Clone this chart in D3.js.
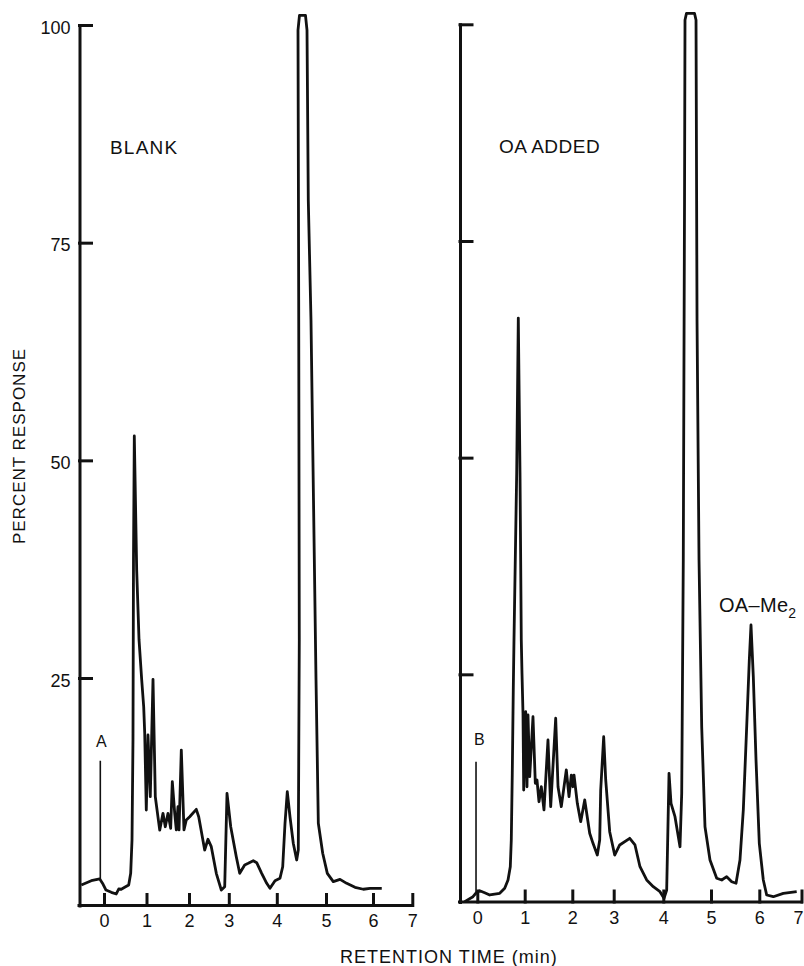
<!DOCTYPE html>
<html>
<head>
<meta charset="utf-8">
<script src="https://cdn.jsdelivr.net/npm/d3@7"></script>
<style>
  html, body { margin: 0; padding: 0; background: #fff; }
  svg { display: block; }
  text { font-family: "Liberation Sans", Arial, sans-serif; fill: #111; }
</style>
</head>
<body>
<div id="chart"></div>
<script>
// tick values / labels
const xTickValues = [0, 1, 2, 3, 4, 5, 6, 7];
const xTickLabels = ["0", "1", "2", "3", "4", "5", "6", "7"];
const yTickValues = [25, 50, 75, 100];

// trace A: blank (retention time in min, percent response)
const blankTime = [
  -0.534, -0.299, -0.101, -0.024, 0.047, 0.172, 0.289, 0.346, 0.407, 0.487,
  0.581, 0.628, 0.659, 0.682, 0.694, 0.713, 0.769, 0.824, 0.887, 0.934,
  0.958, 0.995, 1.035, 1.089, 1.153, 1.207, 1.311, 1.388, 1.442, 1.506,
  1.569, 1.607, 1.664, 1.701, 1.741, 1.765, 1.819, 1.882, 1.936, 2.018,
  2.183, 2.244, 2.394, 2.477, 2.56, 2.686, 2.812, 2.897, 2.955, 3.04,
  3.156, 3.227, 3.331, 3.406, 3.51, 3.581, 3.685, 3.79, 3.858, 3.963,
  4.065, 4.12, 4.167, 4.213, 4.268, 4.335, 4.404, 4.437, 4.457, 4.445,
  4.431, 4.461, 4.583, 4.614, 4.64, 4.695, 4.746, 4.797, 4.844, 4.933,
  5.028, 5.155, 5.298, 5.44, 5.617, 5.794, 5.936, 6.223
];
const blankResponse = [
  1.23, 1.72, 1.92, 1.34, 0.65, 0.39, 0.2, 0.77, 0.74, 0.96,
  1.23, 2.57, 6.4, 17.9, 38.6, 52.8, 37.4, 29.4, 24.8, 21.7,
  18.65, 9.84, 18.46, 11.37, 24.85, 11.37, 7.53, 9.46, 7.92, 9.46,
  7.74, 13.09, 9.46, 7.55, 10.22, 7.55, 16.73, 7.55, 8.69, 9.07,
  9.92, 9.07, 5.25, 6.48, 5.63, 2.57, 0.65, 1.03, 11.76, 7.92,
  4.48, 2.57, 3.53, 3.72, 4.02, 3.79, 2.57, 1.42, 0.85, 1.72,
  2.0, 3.33, 8.32, 11.94, 9.07, 6.02, 4.1, 5.25, 29.4, 68.4,
  99.4, 101.1, 101.1, 99.4, 79.9, 66.1, 45.4, 24.8, 8.32, 4.87,
  2.57, 1.61, 1.88, 1.42, 0.96, 0.74, 0.85, 0.85
];

// trace B: OA added
const oaTime = [
  -0.266, -0.091, -0.021, 0.051, 0.156, 0.262, 0.367, 0.473, 0.578, 0.648,
  0.696, 0.717, 0.738, 0.759, 0.774, 0.831, 0.865, 0.901, 0.928, 0.943,
  0.964, 0.979, 1.021, 1.048, 1.069, 1.105, 1.174, 1.223, 1.258, 1.3,
  1.349, 1.405, 1.489, 1.546, 1.651, 1.7, 1.769, 1.874, 1.931, 1.979,
  2.017, 2.041, 2.121, 2.203, 2.3, 2.42, 2.5, 2.604, 2.662, 2.686,
  2.758, 2.807, 2.903, 3.02, 3.121, 3.323, 3.429, 3.53, 3.665, 3.798,
  3.933, 4.015, 4.071, 4.12, 4.162, 4.245, 4.35, 4.386, 4.419, 4.445,
  4.455, 4.486, 4.654, 4.686, 4.707, 4.749, 4.805, 4.874, 4.979, 5.118,
  5.222, 5.325, 5.429, 5.518, 5.6, 5.669, 5.739, 5.793, 5.828, 5.876,
  5.932, 6.0, 6.095, 6.175, 6.332, 6.569, 6.886
];
const oaResponse = [
  -1.23, -0.66, -0.2, 0.03, -0.2, -0.46, -0.35, -0.27, 0.31, 1.27,
  2.8, 5.88, 13.58, 23.19, 28.96, 48.2, 66.1, 48.2, 28.96, 25.1,
  20.5, 11.65, 20.69, 12.03, 20.31, 13.19, 20.11, 12.43, 12.81, 10.3,
  12.03, 9.35, 17.42, 9.73, 19.93, 12.03, 9.73, 13.96, 10.88, 13.38,
  12.03, 13.38, 10.12, 8.0, 10.5, 6.66, 5.5, 4.15, 5.88, 11.65,
  17.8, 12.81, 6.84, 4.15, 5.31, 6.08, 5.31, 2.8, 1.27, 0.5,
  -0.08, -0.84, 0.12, 13.58, 10.12, 8.57, 5.11, 11.27, 38.19, 79.7,
  100.5, 101.27, 101.27, 100.5, 65.9, 38.19, 18.96, 7.42, 3.58, 1.47,
  1.27, 1.65, 1.07, 0.89, 3.58, 9.35, 18.96, 26.65, 30.69, 24.73,
  15.11, 5.5, 1.27, -0.46, -0.66, -0.27, -0.08
];

// injection markers [time, base, top]
const blankMarker = [-0.087, 1.8, 15.5];
const oaMarker = [-0.027, -0.2, 14.9];

const width = 804;
const height = 966;

const svg = d3
  .select("#chart")
  .append("svg")
  .attr("width", width)
  .attr("height", height);

// layout of the two hand drawn panels (tick spacing is slightly uneven)
const panels = [
  {
    time: blankTime, resp: blankResponse, marker: blankMarker,
    tickPx: [104, 146.5, 189, 228.8, 276.8, 326, 373, 412.3],
    axisX: 79.5, axisY: 905.5, y0: 895.7, y100: 25, yLabels: true,
    title: "BLANK", titleX: 110, titleY: 154, titleSpacing: 1.2,
    letter: "A", letterX: 101.3, letterY: 746.5,
  },
  {
    time: oaTime, resp: oaResponse, marker: oaMarker,
    tickPx: [477.3, 524.7, 572.3, 613.7, 663.3, 711, 759.3, 801.5],
    axisX: 460, axisY: 902, y0: 891, y100: 24.3, yLabels: false,
    title: "OA ADDED", titleX: 499, titleY: 153, titleSpacing: 0.5,
    letter: "B", letterX: 479.3, letterY: 745,
  },
];

panels.forEach((p) => drawPanel(p));

function drawPanel(p) {
  const g = svg.append("g");
  const x = d3.scaleLinear().domain(xTickValues).range(p.tickPx);
  const y = d3.scaleLinear().domain([0, 100]).range([p.y0, p.y100]);
  const yAxisScale = d3
    .scaleLinear()
    .domain([y.invert(p.axisY), 100])
    .range([p.axisY, p.y100]);

  // y axis, ticks pointing inward
  const yAxis = g
    .append("g")
    .attr("transform", "translate(" + p.axisX + ",0)")
    .call(
      d3
        .axisLeft(yAxisScale)
        .tickValues(yTickValues)
        .tickSizeInner(-12)
        .tickSizeOuter(0)
        .tickPadding(9)
        .tickFormat((d) => (p.yLabels ? d : ""))
    );

  // x axis, ticks pointing up
  const xAxis = g
    .append("g")
    .attr("transform", "translate(0," + p.axisY + ")")
    .call(
      d3
        .axisBottom(x)
        .tickValues(xTickValues)
        .tickSizeInner(-11)
        .tickSizeOuter(0)
        .tickPadding(9)
        .tickFormat((d, i) => xTickLabels[i])
    );
  xAxis.select(".domain").attr("d", "M" + (p.axisX - 0.5) + ",0H" + x(7));

  [yAxis, xAxis].forEach((a) => {
    a.attr("font-family", null).attr("font-size", null);
    a.selectAll("path, line")
      .attr("stroke", "#111")
      .attr("stroke-width", 3)
      .attr("stroke-linecap", "square");
    a.selectAll("text").style("font-size", "18px").attr("fill", "#111");
  });
  yAxis.selectAll("text").attr("dy", "0.45em");
  // last label sits at the page edge, keep it inside
  xAxis
    .selectAll(".tick text")
    .filter((d) => x(d) + 6 > width)
    .attr("dx", width - 6 - x(7));

  // chromatogram trace
  const pts = p.time.map((t, i) => [t, p.resp[i]]);
  const line = d3
    .line()
    .x((d) => x(d[0]))
    .y((d) => y(d[1]));

  g.append("path")
    .datum(pts)
    .attr("d", line)
    .attr("fill", "none")
    .attr("stroke", "#111")
    .attr("stroke-width", 2.8)
    .attr("stroke-linejoin", "round");

  // injection spike
  g.append("line")
    .attr("x1", x(p.marker[0]))
    .attr("x2", x(p.marker[0]))
    .attr("y1", y(p.marker[1]))
    .attr("y2", y(p.marker[2]))
    .attr("stroke", "#111")
    .attr("stroke-width", 1.6);

  g.append("text")
    .attr("x", p.titleX)
    .attr("y", p.titleY)
    .style("font-size", "19px")
    .style("letter-spacing", p.titleSpacing + "px")
    .text(p.title);

  g.append("text")
    .attr("x", p.letterX)
    .attr("y", p.letterY)
    .attr("text-anchor", "middle")
    .style("font-size", "16px")
    .text(p.letter);

  if (!p.yLabels) {
    const lbl = g
      .append("text")
      .attr("x", 719)
      .attr("y", 611.5)
      .style("font-size", "20px")
      .style("letter-spacing", "0.3px");
    lbl.append("tspan").text("OA–Me");
    lbl.append("tspan").attr("dy", 6).style("font-size", "14px").text("2");
  }
}

svg
  .append("text")
  .attr("transform", "translate(24.5,446) rotate(-90)")
  .attr("text-anchor", "middle")
  .style("font-size", "17px")
  .style("letter-spacing", "1px")
  .text("PERCENT RESPONSE");

svg
  .append("text")
  .attr("x", 340)
  .attr("y", 963)
  .style("font-size", "18px")
  .style("letter-spacing", "1px")
  .text("RETENTION TIME (min)");
</script>
</body>
</html>
